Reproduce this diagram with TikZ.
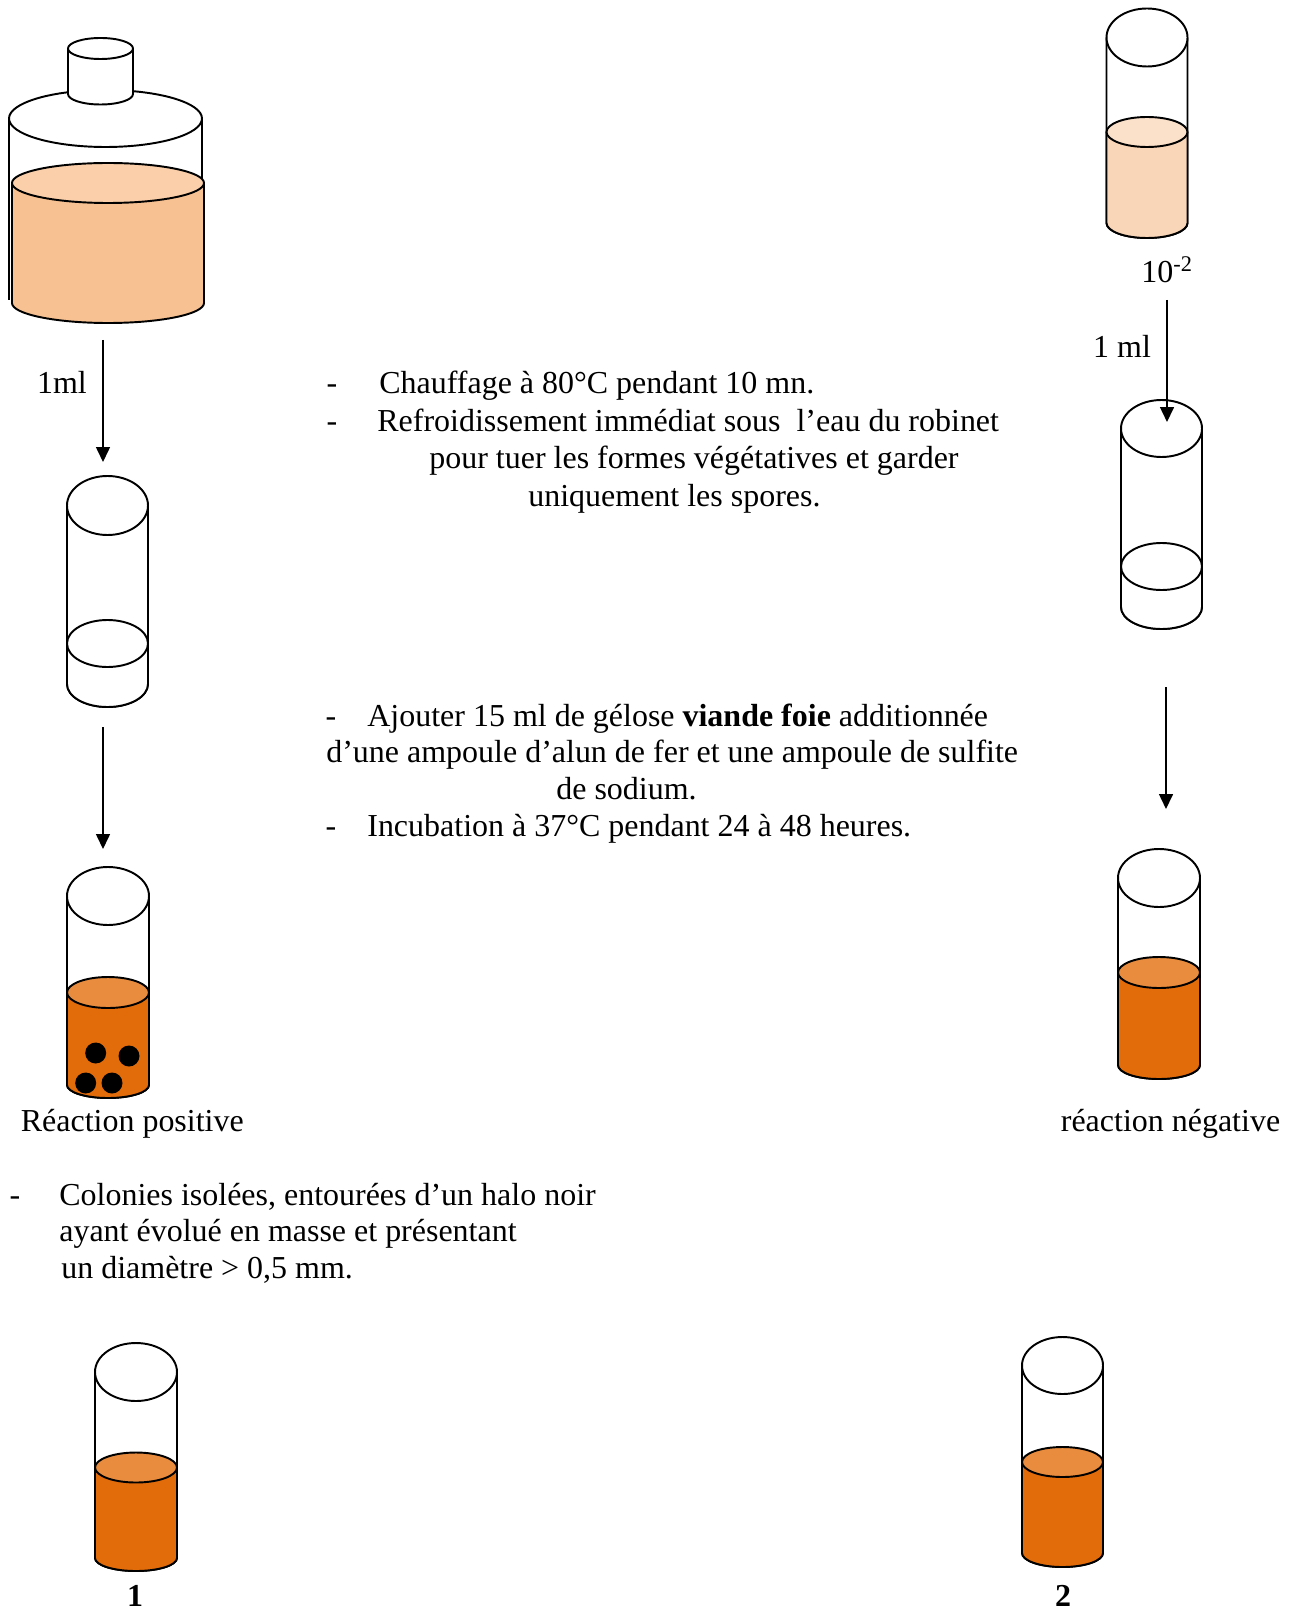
\documentclass[tikz,border=0pt]{standalone}
\usepackage{fontspec}
\setmainfont{Liberation Serif}
\usetikzlibrary{arrows.meta}

\definecolor{peche}{HTML}{F8C191}
\definecolor{pecheclair}{HTML}{FACFA9}
\definecolor{dilution}{HTML}{FAD6B8}
\definecolor{dilutionclair}{HTML}{FCE1CA}
\definecolor{gelose}{HTML}{E36C0A}
\definecolor{geloseclair}{HTML}{E98C3E}

\tikzset{
  contour/.style={line width=1.1pt, line join=round},
  fleche/.style={-{Triangle[length=0.3cm,width=0.28cm]}, line width=0.9pt},
  texte/.style={anchor=base west, inner sep=0pt, font=\fontsize{18.2}{21}\selectfont},
  tiret/.style={anchor=base, inner sep=0pt, font=\fontsize{18.2}{21}\selectfont},
  etiquette/.style={anchor=base, inner sep=0pt, font=\fontsize{18.2}{21}\selectfont},
}

% tube: centre x, radius, mouth y, mouth radius, bottom y, bottom radius
\newcommand\tubevide[6]{%
  \draw[contour] (#1-#2,#3) -- (#1-#2,#5)
    arc[start angle=180, end angle=0, x radius=#2, y radius=#6] -- (#1+#2,#3);
  \draw[contour, fill=white] (#1,#3) ellipse[x radius=#2, y radius=#4];
}
% contents: centre x, radius, surface y, surface radius, bottom y, bottom radius, side, top
\newcommand\liquide[8]{%
  \draw[contour, fill=#7] (#1-#2,#3) -- (#1-#2,#5)
    arc[start angle=180, end angle=0, x radius=#2, y radius=#6] -- (#1+#2,#3) -- cycle;
  \draw[contour, fill=#8] (#1,#3) ellipse[x radius=#2, y radius=#4];
}

\begin{document}
\begin{tikzpicture}[x=0.02cm, y=-0.02cm]
  \useasboundingbox (0,0) rectangle (1297,1611);

  % flacon
  \draw[contour] (9,118.5) -- (9,300);
  \draw[contour] (202,118.5) -- (202,190);
  \draw[contour, fill=white] (105.5,118.5) ellipse[x radius=96.5, y radius=28.5];
  \draw[contour, fill=white] (68,48.5) -- (68,94)
    arc[start angle=180, end angle=0, x radius=32.5, y radius=10.5] -- (133,48.5);
  \draw[contour, fill=white] (100.5,48.5) ellipse[x radius=32.5, y radius=10.5];
  \liquide{108}{96}{183}{20}{303}{20}{peche}{pecheclair}

  % tube de dilution 10^-2
  \tubevide{1147}{40.5}{37.5}{29}{223}{15}
  \liquide{1147}{40.5}{132}{15}{223}{15}{dilution}{dilutionclair}

  % tubes vides
  \tubevide{107.5}{40.5}{505.5}{29.5}{684}{23}
  \liquide{107.5}{40.5}{643.5}{23.5}{684}{23}{white}{white}
  \tubevide{1161.5}{40.5}{428.5}{28.5}{607}{22}
  \liquide{1161.5}{40.5}{566.5}{23.5}{607}{22}{white}{white}

  % reaction positive
  \tubevide{108}{41}{896}{29}{1085}{13}
  \liquide{108}{41}{992.5}{15.5}{1085}{13}{gelose}{geloseclair}
  \foreach \cx/\cy in {95.7/1053, 129/1056, 85.7/1083, 112/1083}
    \fill (\cx,\cy) circle[radius=10.5];

  % reaction negative
  \tubevide{1159}{41}{878}{29}{1065}{14}
  \liquide{1159}{41}{972.5}{15.5}{1065}{14}{gelose}{geloseclair}

  % tubes 1 et 2
  \tubevide{136}{41}{1372}{29}{1558}{13}
  \liquide{136}{41}{1467.5}{15}{1558}{13}{gelose}{geloseclair}
  \tubevide{1062.5}{40.5}{1365.5}{28.5}{1553}{14}
  \liquide{1062.5}{40.5}{1462}{15}{1553}{14}{gelose}{geloseclair}

  % prelevements
  \coordinate (flacon-sortie) at (103,340);
  \coordinate (tubeA-entree) at (103,462);
  \coordinate (tubeA-sortie) at (103,727);
  \coordinate (positif-entree) at (103,849);
  \coordinate (dilution-sortie) at (1167,300);
  \coordinate (tubeB-entree) at (1167,422);
  \coordinate (tubeB-sortie) at (1166,687);
  \coordinate (negatif-entree) at (1166,809);
  \draw[fleche] (flacon-sortie) -- (tubeA-entree);
  \draw[fleche] (tubeA-sortie) -- (positif-entree);
  \draw[fleche] (dilution-sortie) -- (tubeB-entree);
  \draw[fleche] (tubeB-sortie) -- (negatif-entree);

  \node[etiquette] (vol1) at (62,394) {1ml};
  \node[etiquette] (vol2) at (1122,358) {1 ml};
  \node[texte] (dil) at (1141,283) {10\textsuperscript{-2}};

  % chauffage
  \node[tiret] (d1) at (332,394) {-};
  \node[texte] (chauf) at (379,394) {Chauffage à 80°C pendant 10 mn.};
  \node[tiret] (d2) at (332,431) {-};
  \node[texte] (refr1) at (377,431) {Refroidissement immédiat sous\ \ l’eau du robinet};
  \node[texte] (refr2) at (429,468) {pour tuer les formes végétatives et garder};
  \node[texte] (refr3) at (528,506) {uniquement les spores.};

  % ensemencement
  \node[tiret] (d3) at (331,726) {-};
  \node[texte] (ajout1) at (367,726) {Ajouter 15 ml de gélose \textbf{viande foie} additionnée};
  \node[texte] (ajout2) at (326,762) {d’une ampoule d’alun de fer et une ampoule de sulfite};
  \node[texte] (ajout3) at (556,799) {de sodium.};
  \node[tiret] (d4) at (331,836) {-};
  \node[texte] (incub) at (367,836) {Incubation à 37°C pendant 24 à 48 heures.};

  % lecture
  \node[texte] (pos) at (20.5,1131) {Réaction positive};
  \node[texte] (neg) at (1060.5,1131) {réaction négative};
  \node[tiret] (d5) at (15,1205) {-};
  \node[texte] (col1) at (59,1205) {Colonies isolées, entourées d’un halo noir};
  \node[texte] (col2) at (59,1241) {ayant évolué en masse et présentant};
  \node[texte] (col3) at (61,1278) {un diamètre > 0,5 mm.};

  \node[etiquette, font=\fontsize{18.2}{21}\selectfont\bfseries] (num1) at (135,1606) {1};
  \node[etiquette, font=\fontsize{18.2}{21}\selectfont\bfseries] (num2) at (1063,1606) {2};
\end{tikzpicture}
\end{document}
